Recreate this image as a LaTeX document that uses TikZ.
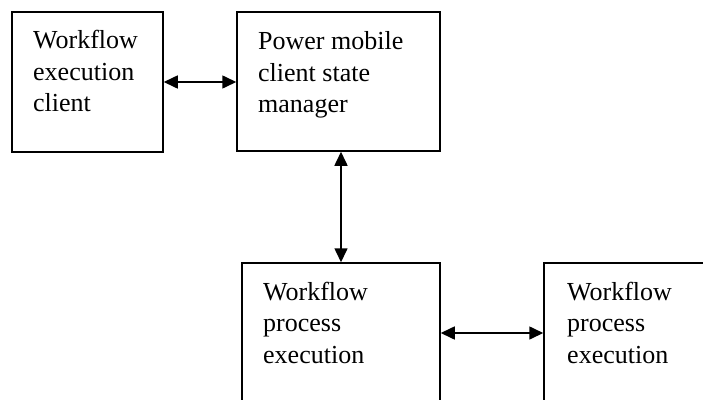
\documentclass[tikz,border=0pt]{standalone}
\usepackage{fontspec}
\setmainfont{Liberation Serif}
\usetikzlibrary{arrows.meta}
\tikzset{
  box/.style={draw, line width=1.5pt, rectangle, inner sep=0pt},
  lbl/.style={align=left, inner sep=0pt, anchor=base west, font=\fontsize{26}{31.5}\selectfont},
  link/.style={line width=1.6pt, {Triangle[length=14pt,width=13pt]}-{Triangle[length=14pt,width=13pt]}}
}
\begin{document}
\begin{tikzpicture}[x=1pt,y=-1pt]
\useasboundingbox (0,0) rectangle (703,399);
\clip (0,0) rectangle (703,399);
\node[box, minimum width=151pt, minimum height=140pt] (b1) at (87.5,82) {};
\node[box, minimum width=203pt, minimum height=139pt] (b2) at (338.5,81.5) {};
\node[box, minimum width=198pt, minimum height=160pt] (b3) at (341,343) {};
\node[box, minimum width=180pt, minimum height=160pt] (b4) at (634,343) {};
\node[lbl] (t1) at (33,111.5) {Workflow\\execution\\client};
\node[lbl] (t2) at (258,112.5) {Power mobile\\client state\\manager};
\node[lbl] (t3) at (263,363) {Workflow\\process\\execution};
\node[lbl] (t4) at (567,363) {Workflow\\process\\execution};
\coordinate (v) at (341,0);
\coordinate (h) at (0,333);
\draw[link] (b1.east) -- (b1.east -| b2.west);
\draw[link] (v |- b2.south) -- (v |- b3.north);
\draw[link] (h -| b3.east) -- (h -| b4.west);
\end{tikzpicture}
\end{document}
